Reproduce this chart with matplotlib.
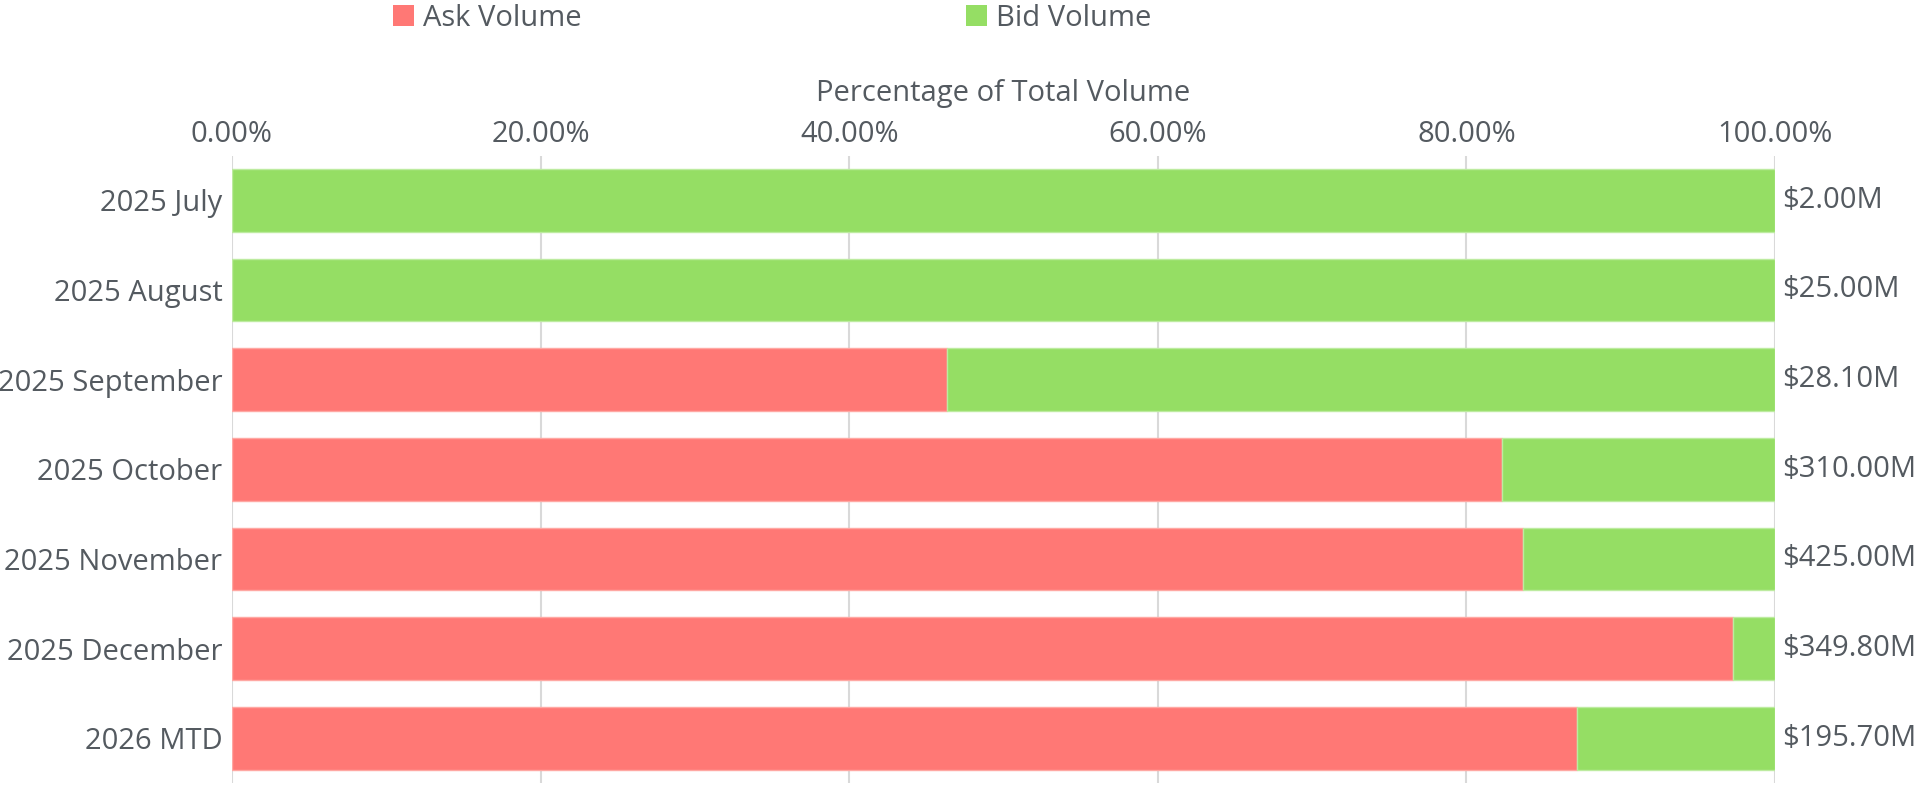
import matplotlib
matplotlib.use("Agg")
import matplotlib.pyplot as plt
from matplotlib.patches import Patch

categories = ["2025 July", "2025 August", "2025 September", "2025 October",
              "2025 November", "2025 December", "2026 MTD"]
ask_pct = [0.0, 0.0, 46.35, 82.3, 83.7, 97.3, 87.2]
bid_pct = [100.0 - a for a in ask_pct]
total_labels = ["$2.00M", "$25.00M", "$28.10M", "$310.00M", "$425.00M", "$349.80M", "$195.70M"]
xticks = [0, 20, 40, 60, 80, 100]
xtick_labels = ["0.00%", "20.00%", "40.00%", "60.00%", "80.00%", "100.00%"]

ASK = "#ff7875"
BID = "#95de64"
TXT = "#545a60"
GRID = "#d9d9d9"
FS = 21

plt.rcParams["font.family"] = ["Open Sans", "DejaVu Sans"]

fig = plt.figure(figsize=(19.15, 8.0), dpi=100)
ax = fig.add_axes([232 / 1915, 1 - 783 / 800, (1775 - 232) / 1915, (783 - 155.5) / 800])

y = list(range(len(categories)))
ax.barh(y, ask_pct, height=0.7, color=ASK, edgecolor="#ffa8a3", linewidth=1.0, zorder=3)
ax.barh(y, bid_pct, left=ask_pct, height=0.7, color=BID, edgecolor="#bdeba0", linewidth=1.0, zorder=3)

ax.set_xlim(0, 100)
ax.set_ylim(len(categories) - 0.5, -0.5)
ax.set_yticks(y)
ax.set_yticklabels(categories, fontsize=FS, color=TXT)
ax.set_xticks(xticks)
ax.set_xticklabels(xtick_labels, fontsize=FS, color=TXT)
ax.xaxis.tick_top()
ax.xaxis.set_label_position("top")
ax.set_xlabel("Percentage of Total Volume", fontsize=FS, color=TXT, labelpad=13)
ax.tick_params(axis="both", length=0)
ax.tick_params(axis="x", pad=5)
ax.tick_params(axis="y", pad=7)
for s in ax.spines.values():
    s.set_visible(False)
ax.grid(axis="x", color=GRID, linewidth=1.5, zorder=0)
ax.set_axisbelow(True)

for i, lab in enumerate(total_labels):
    ax.annotate(lab, xy=(100, i), xytext=(5, 0), textcoords="offset points",
                ha="left", va="center", fontsize=FS, color=TXT, annotation_clip=False)

h1 = Patch(facecolor=ASK, edgecolor="none", label="Ask Volume")
h2 = Patch(facecolor=BID, edgecolor="none", label="Bid Volume")
for h, xpos in [(h1, 390 / 1915), (h2, 963 / 1915)]:
    fig.legend(handles=[h], loc="upper left", bbox_to_anchor=(xpos, 1.0 - 1 / 800),
               frameon=False, fontsize=FS, labelcolor=TXT, handlelength=0.72,
               handleheight=0.72, handletextpad=0.3, borderaxespad=0.0, borderpad=0.1)

fig.savefig("out.png", dpi=100, facecolor="white")
